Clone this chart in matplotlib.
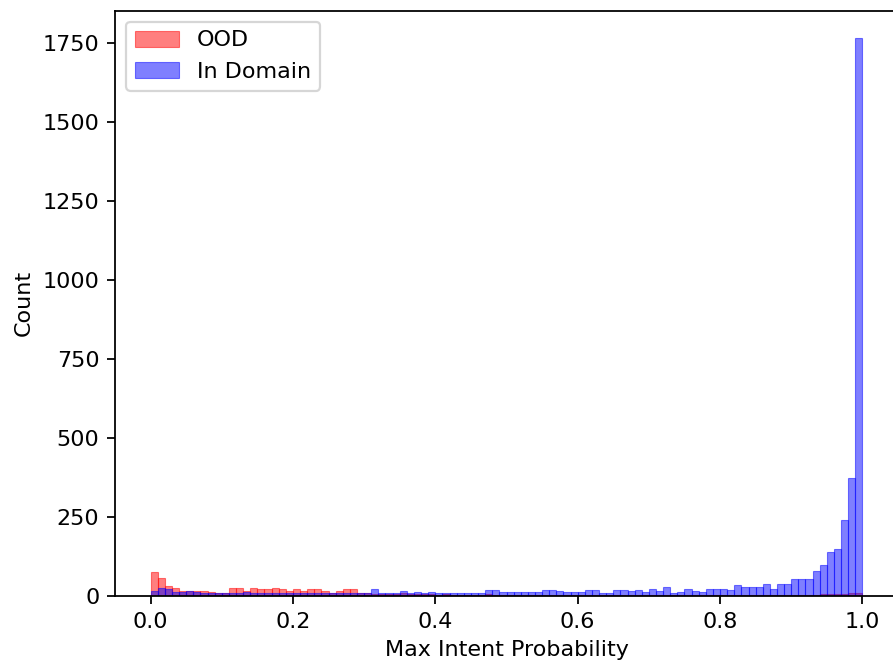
import numpy as np
import matplotlib
matplotlib.use("Agg")
import matplotlib.pyplot as plt

# Bin edges (100 bins over [0, 1])
bin_edges = np.linspace(0.0, 1.0, 101)

ood_counts = [
    77, 56, 31, 25, 16, 16, 16, 16, 14, 11,
    11, 26, 26, 16, 26, 21, 21, 26, 21, 16,
    21, 16, 21, 21, 16, 11, 16, 21, 21, 11,
    9, 7, 6,
    6, 5, 8, 5, 7, 5, 7, 4, 5, 4,
    4, 3, 4, 3, 5, 4, 3, 3, 4, 3,
    3, 2, 4, 3, 3, 2, 3, 2, 3, 3,
    2, 2, 3, 3, 2,
    2, 2, 3, 2, 2, 2, 3, 2, 2, 2,
    2, 3, 2, 2, 3, 2, 3, 3, 2, 3,
    2, 3, 3, 4, 3, 4, 5, 5, 6, 7,
    8, 10,
]

in_domain_counts = [
    16, 26, 21, 13, 13, 15, 12, 10, 9, 9,
    9, 9, 9, 13, 9, 9, 9, 9, 9, 9,
    9, 9, 9, 9, 9, 9, 9, 9, 9, 11,
    11, 21, 11,
    11, 9, 16, 9, 13, 9, 13, 9, 9, 9,
    9, 9, 9, 9, 20, 18, 13, 13, 13, 13,
    13, 13, 20, 20, 16, 13, 13, 13, 20, 20,
    11, 9, 18, 20, 16,
    18, 12, 23, 17, 28, 10, 13, 23, 17, 12,
    23, 23, 23, 18, 34, 30, 30, 30, 39, 23,
    39, 39, 53, 53, 53, 79, 99, 138, 149, 239,
    373, 1765,
]

labels = ["OOD", "In Domain"]
x_ticks = [0.0, 0.2, 0.4, 0.6, 0.8, 1.0]
y_ticks = [0, 250, 500, 750, 1000, 1250, 1500, 1750]

DPI = 160
fig = plt.figure(figsize=(893 / DPI, 664 / DPI), dpi=DPI)
ax = fig.add_axes([115 / 893, 68 / 664, 783 / 893, 585.5 / 664])

centers = (bin_edges[:-1] + bin_edges[1:]) / 2
ax.hist(centers, bins=bin_edges, weights=ood_counts, color="red",
        alpha=0.5, edgecolor="red", linewidth=0.5, label=labels[0])
ax.hist(centers, bins=bin_edges, weights=in_domain_counts, color="blue",
        alpha=0.5, edgecolor="blue", linewidth=0.5, label=labels[1])

ax.set_xlim(-0.05, 1.05)
ax.set_ylim(0, max(in_domain_counts) * 1.05)
ax.set_xticks(x_ticks)
ax.set_yticks(y_ticks)
ax.set_xlabel("Max Intent Probability")
ax.set_ylabel("Count")
ax.legend(loc="upper left")

fig.savefig("out.png", dpi=DPI)
